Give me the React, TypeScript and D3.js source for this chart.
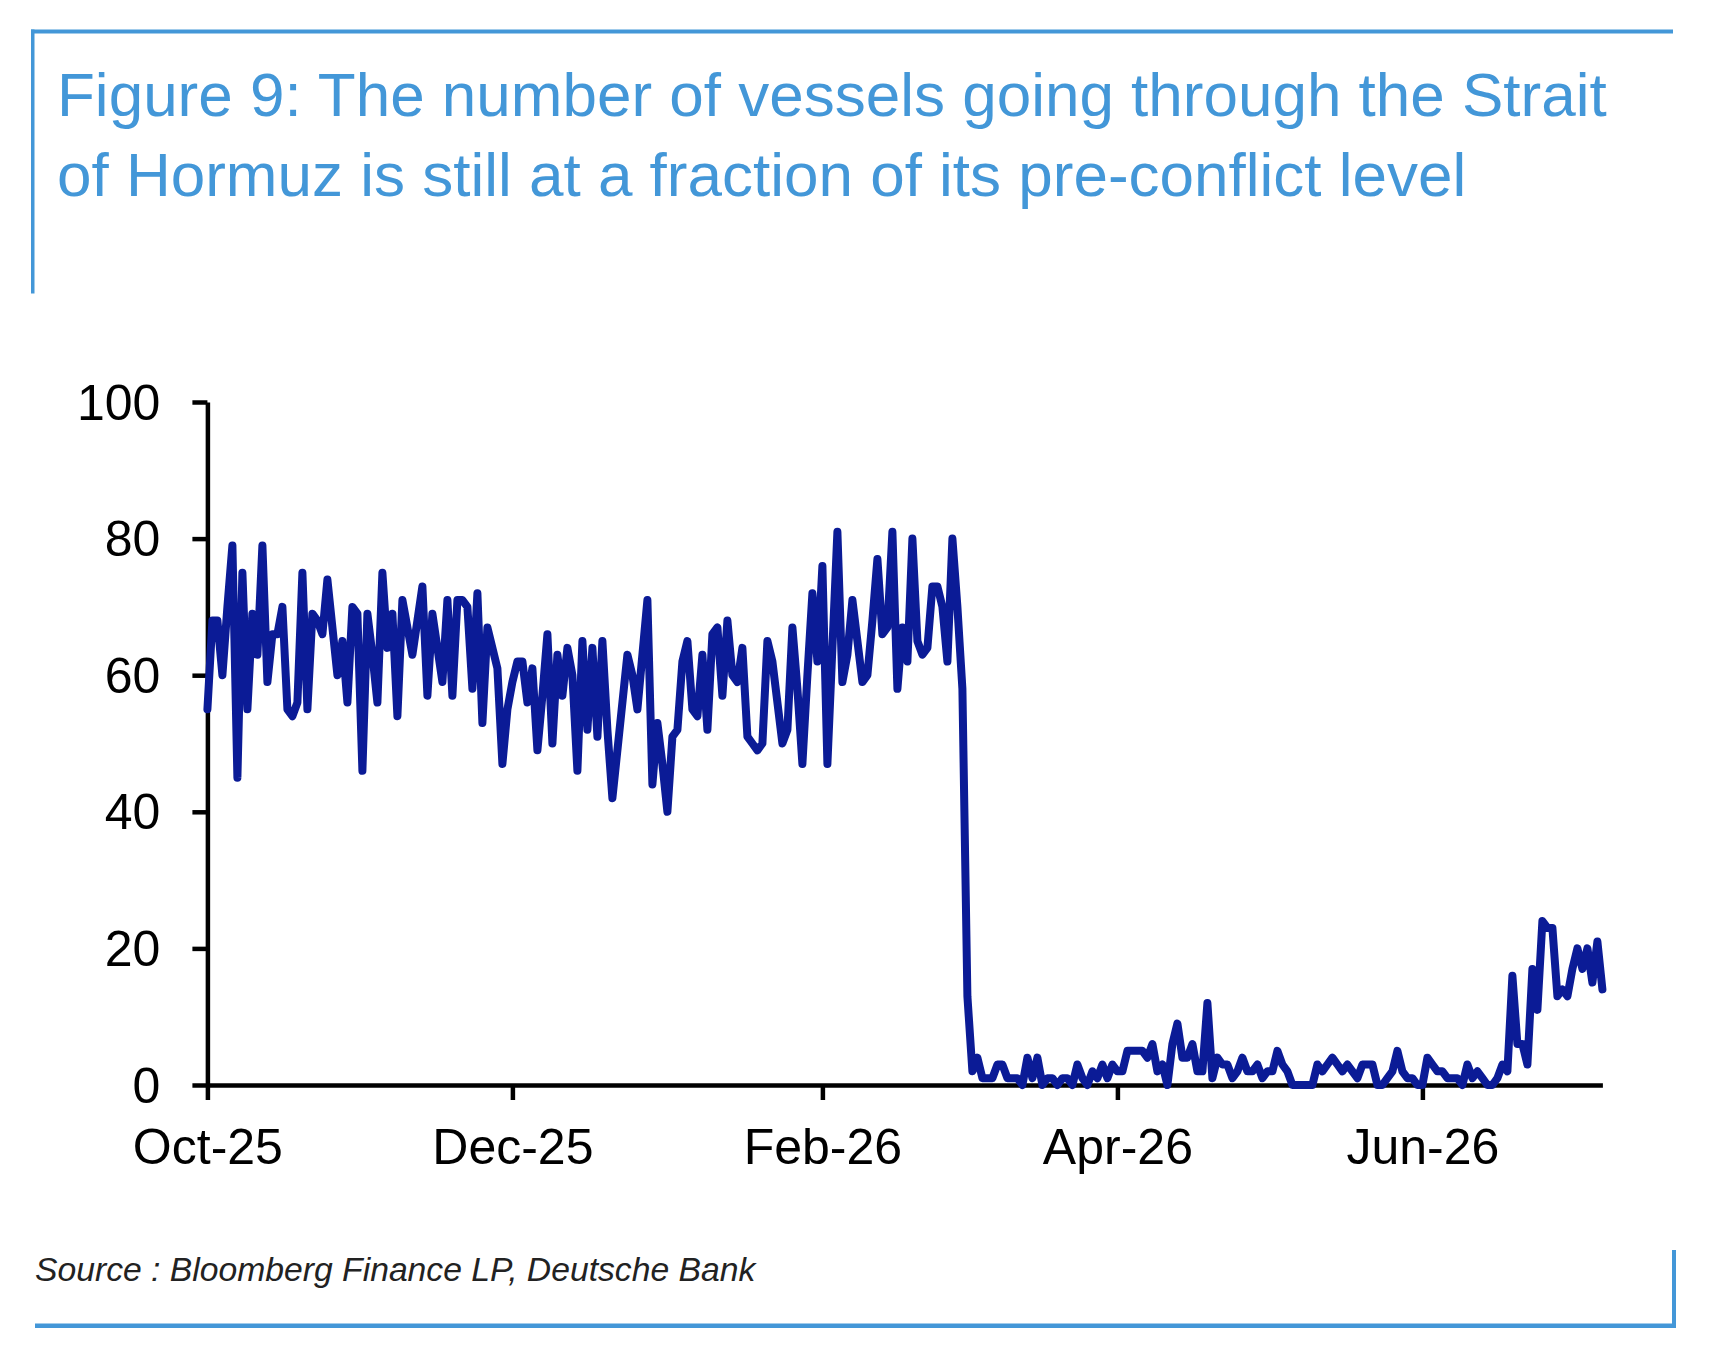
import { useEffect, useRef } from "react";
import * as d3 from "d3";

const W = 1712;
const H = 1360;
const PLOT = { left: 207.4, right: 1602.4, top: 402, bottom: 1085 };

const TITLE_LINES = [
  "Figure 9: The number of vessels going through the Strait",
  "of Hormuz is still at a fraction of its pre-conflict level",
];
const SOURCE = "Source : Bloomberg Finance LP, Deutsche Bank";

// daily vessel transits, one array per month, first value = 1 Oct 2025
const oct25 = [55, 68, 68, 60, 70, 79, 45, 75, 55, 69, 63, 79, 59, 66, 66, 70, 55, 54, 56, 75, 55, 69, 68, 66, 74, 67, 60, 65, 56, 70, 69];
const nov25 = [46, 69, 63, 56, 75, 64, 69, 54, 71, 67, 63, 68, 73, 57, 69, 64, 59, 71, 57, 71, 71, 70, 58, 72, 53, 67, 64, 61, 47, 55];
const dec25 = [59, 62, 62, 56, 61, 49, 57, 66, 50, 63, 57, 64, 60, 46, 65, 52, 64, 51, 65, 52, 42, 49, 56, 63, 60, 55, 63, 71, 44, 53, 47];
const jan26 = [40, 51, 52, 62, 65, 55, 54, 63, 52, 66, 67, 57, 68, 60, 59, 64, 51, 50, 49, 50, 65, 62, 56, 50, 52, 67, 58, 47, 60, 72, 62];
const feb26 = [76, 47, 64, 81, 59, 63, 71, 65, 59, 60, 68, 77, 66, 67, 81, 58, 67, 62, 80, 65, 63, 64, 73, 73, 70, 62, 80, 70];
const mar26 = [58, 13, 2, 4, 1, 1, 1, 3, 3, 1, 1, 1, 0, 4, 1, 4, 0, 1, 1, 0, 1, 1, 0, 3, 1, 0, 2, 1, 3, 1, 3];
const apr26 = [2, 2, 5, 5, 5, 5, 4, 6, 2, 3, 0, 6, 9, 4, 4, 6, 2, 2, 12, 1, 4, 3, 3, 1, 2, 4, 2, 2, 3, 1];
const may26 = [2, 2, 5, 3, 2, 0, 0, 0, 0, 0, 3, 2, 3, 4, 3, 2, 3, 2, 1, 3, 3, 3, 0, 0, 1, 2, 5, 2, 1, 1, 0];
const jun26 = [0, 4, 3, 2, 2, 1, 1, 1, 0, 3, 1, 2, 1, 0, 0, 1, 3, 2, 16, 6, 6, 3, 17, 11, 24, 23, 23, 13, 14, 13];
const jul26 = [17, 20, 17, 20, 15, 21, 14];

const START = new Date(2025, 9, 1);
const xTickDates = [
  new Date(2025, 9, 1),
  new Date(2025, 11, 1),
  new Date(2026, 1, 1),
  new Date(2026, 3, 1),
  new Date(2026, 5, 1),
];
const yTickValues = [0, 20, 40, 60, 80, 100];

const FONT = "'Liberation Sans', Arial, Helvetica, sans-serif";
const BLUE = "#4397d8";
const NAVY = "#0b1b96";

export default function App() {
  const gRef = useRef<SVGGElement>(null);

  useEffect(() => {
    const g = d3.select(gRef.current);
    if (!g.node()) return;
    g.selectAll("*").remove();

    const counts = [
      ...oct25, ...nov25, ...dec25, ...jan26, ...feb26,
      ...mar26, ...apr26, ...may26, ...jun26, ...jul26,
    ];
    const series = counts.map((v, i) => ({ date: d3.timeDay.offset(START, i), value: v }));

    const x = d3
      .scaleTime()
      .domain([START, series[series.length - 1].date])
      .range([PLOT.left, PLOT.right]);
    const y = d3.scaleLinear().domain([0, 100]).range([PLOT.bottom, PLOT.top]);

    const yAxis = g
      .append("g")
      .attr("transform", `translate(${PLOT.left},0)`)
      .call(d3.axisLeft(y).tickValues(yTickValues).tickSize(15).tickSizeOuter(0).tickPadding(32));
    yAxis.selectAll("line, path").attr("stroke", "#000").attr("stroke-width", 4.5);
    yAxis
      .selectAll("text")
      .attr("fill", "#000")
      .attr("dy", "0.34em")
      .style("font-size", "50px")
      .style("font-family", FONT);

    const xAxis = g
      .append("g")
      .attr("transform", `translate(0,${PLOT.bottom})`)
      .call(
        d3
          .axisBottom(x)
          .tickValues(xTickDates)
          .tickSize(15)
          .tickSizeOuter(0)
          .tickFormat((d) => d3.timeFormat("%b-%y")(d as Date)),
      );
    xAxis.selectAll("line, path").attr("stroke", "#000").attr("stroke-width", 4.5);
    xAxis
      .selectAll("text")
      .attr("fill", "#000")
      .attr("y", 79)
      .attr("dy", 0)
      .style("font-size", "50px")
      .style("font-family", FONT);

    const line = d3
      .line<{ date: Date; value: number }>()
      .x((d) => x(d.date))
      .y((d) => y(d.value));

    g.append("path")
      .datum(series)
      .attr("d", line)
      .attr("fill", "none")
      .attr("stroke", NAVY)
      .attr("stroke-width", 8)
      .attr("stroke-linejoin", "round")
      .attr("stroke-linecap", "round");
  }, []);

  return (
    <svg
      width={W}
      height={H}
      style={{ position: "absolute", left: 0, top: 0, background: "#fff" }}
    >
      <rect x={0} y={0} width={W} height={H} fill="#fff" />
      {/* frame */}
      <rect x={31} y={29.5} width={1642} height={4} fill={BLUE} />
      <rect x={31} y={29.5} width={3.5} height={264} fill={BLUE} />
      <rect x={35} y={1323.5} width={1641} height={4.5} fill={BLUE} />
      <rect x={1672} y={1250} width={4} height={78} fill={BLUE} />
      {TITLE_LINES.map((t, i) => (
        <text
          key={t}
          x={57}
          y={116 + i * 80}
          fill={BLUE}
          style={{ fontFamily: FONT, fontSize: "62px" }}
        >
          {t}
        </text>
      ))}
      <g ref={gRef} />
      <text
        x={35}
        y={1281}
        fill="#222"
        style={{ fontFamily: FONT, fontSize: "33.7px", fontStyle: "italic" }}
      >
        {SOURCE}
      </text>
    </svg>
  );
}
